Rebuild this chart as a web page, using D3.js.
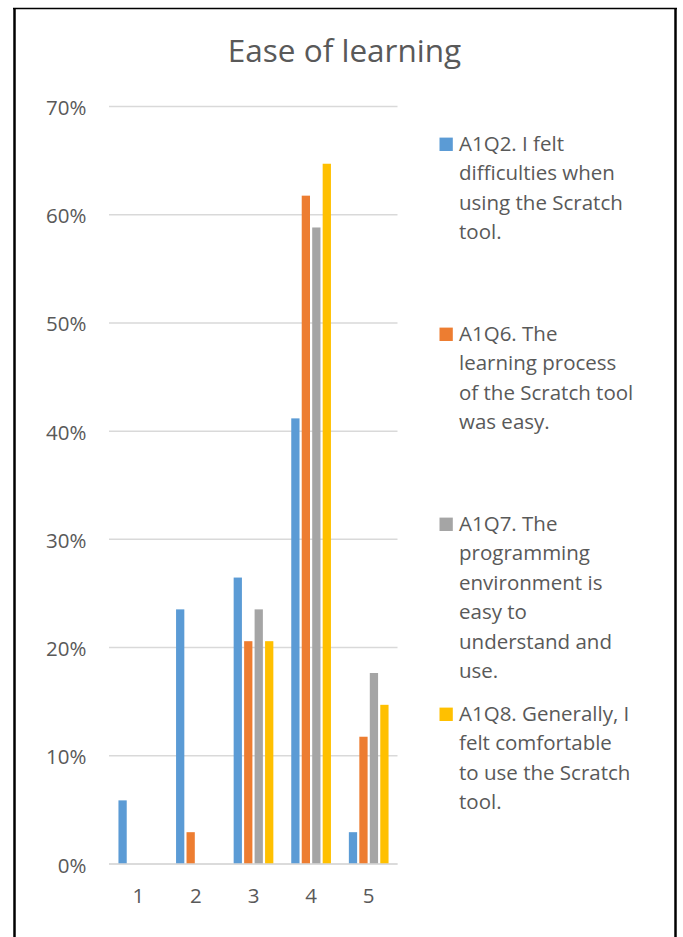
<!DOCTYPE html>
<html>
<head>
<meta charset="utf-8">
<script src="https://cdn.jsdelivr.net/npm/d3@7/dist/d3.min.js"></script>
<style>
  html, body { margin: 0; padding: 0; background: #fff; }
  svg { display: block; }
  text { font-family: "Open Sans", Lato, sans-serif; fill: #595959; }
</style>
</head>
<body>
<svg id="chart" width="683" height="937"></svg>
<script>
// Survey answers on a 1–5 scale, share of respondents per answer
const categories = ["1", "2", "3", "4", "5"];
const seriesKeys = ["A1Q2", "A1Q6", "A1Q7", "A1Q8"];
const valuesQ2 = [0.0588, 0.2353, 0.2647, 0.4118, 0.0294];
const valuesQ6 = [0.0, 0.0294, 0.2059, 0.6176, 0.1176];
const valuesQ7 = [0.0, 0.0, 0.2353, 0.5882, 0.1765];
const valuesQ8 = [0.0, 0.0, 0.2059, 0.6471, 0.1471];
const seriesValues = [valuesQ2, valuesQ6, valuesQ7, valuesQ8];
const seriesColors = ["#5B9BD5", "#ED7D31", "#A5A5A5", "#FFC000"];
const legendLines = [
  ["A1Q2. I felt", "difficulties when", "using the Scratch", "tool."],
  ["A1Q6. The", "learning process", "of the Scratch tool", "was easy."],
  ["A1Q7. The", "programming", "environment is", "easy to", "understand and", "use."],
  ["A1Q8. Generally, I", "felt comfortable", "to use the Scratch", "tool."]
];
const yTicks = [0, 0.1, 0.2, 0.3, 0.4, 0.5, 0.6, 0.7];
const titleText = "Ease of learning";

const fontFamily = "'Open Sans', Lato, sans-serif";
const labelSize = 20.5;
const svg = d3.select("#chart");

// Outer frame
const frame = svg.append("g").attr("stroke", "#000").attr("fill", "none");
frame.append("line").attr("x1", 13).attr("x2", 677).attr("y1", 8.5).attr("y2", 8.5).attr("stroke-width", 1.5);
frame.append("line").attr("x1", 14.5).attr("x2", 14.5).attr("y1", 8).attr("y2", 937).attr("stroke-width", 2.5);
frame.append("line").attr("x1", 675.5).attr("x2", 675.5).attr("y1", 8).attr("y2", 937).attr("stroke-width", 2.5);

// Scales
const x = d3.scaleBand().domain(categories).range([109.5, 397.5]).padding(0);
const xInner = d3.scaleBand().domain(seriesKeys).range([0, x.bandwidth()])
  .paddingInner(0).paddingOuter(0.75);
const y = d3.scaleLinear().domain([0, 0.7]).range([864, 106.5]);

// Title
svg.append("text")
  .attr("x", 344.5).attr("y", 62)
  .attr("text-anchor", "middle")
  .attr("font-size", 31.5)
  .text(titleText);

// Horizontal gridlines
svg.append("g").selectAll("line")
  .data(yTicks)
  .join("line")
  .attr("x1", 109).attr("x2", 397.5)
  .attr("y1", d => y(d)).attr("y2", d => y(d))
  .attr("stroke", "#D9D9D9")
  .attr("stroke-width", 1.5);

// Y axis labels
const yAxis = d3.axisLeft(y).tickValues(yTicks).tickFormat(d3.format(".0%")).tickSize(0).tickPadding(0);
const yg = svg.append("g").attr("transform", "translate(86.5,0)").call(yAxis);
yg.select(".domain").remove();
yg.selectAll("text")
  .attr("font-size", labelSize)
  .attr("font-family", fontFamily)
  .attr("fill", "#595959")
  .attr("dy", null)
  .attr("dominant-baseline", "central");

// Bars
const data = [];
categories.forEach((c, ci) => {
  seriesKeys.forEach((k, si) => {
    data.push({ cat: c, key: k, value: seriesValues[si][ci], color: seriesColors[si] });
  });
});
svg.append("g").selectAll("rect")
  .data(data.filter(d => d.value > 0))
  .join("rect")
  .attr("x", d => x(d.cat) + xInner(d.key) + 1.1)
  .attr("width", xInner.bandwidth() - 2.2)
  .attr("y", d => y(d.value))
  .attr("height", d => y(0) - y(d.value))
  .attr("fill", d => d.color);

// Baseline over the bars
svg.append("line")
  .attr("x1", 109).attr("x2", 397.5)
  .attr("y1", y(0)).attr("y2", y(0))
  .attr("stroke", "#D9D9D9").attr("stroke-width", 1.5);

// X axis labels
const xAxis = d3.axisBottom(x).tickSize(0).tickPadding(0);
const xg = svg.append("g").attr("transform", "translate(0,902.5)").call(xAxis);
xg.select(".domain").remove();
xg.selectAll("text")
  .attr("font-size", labelSize)
  .attr("font-family", fontFamily)
  .attr("fill", "#595959")
  .attr("dy", null)
  .attr("y", 0);

// Legend
const legend = svg.append("g");
const item = legend.selectAll("g")
  .data(seriesKeys)
  .join("g")
  .attr("transform", (d, i) => `translate(0,${151 + i * 190})`);
item.append("rect")
  .attr("x", 439.5).attr("y", -13.4)
  .attr("width", 13.3).attr("height", 13.4)
  .attr("fill", (d, i) => seriesColors[i]);
item.append("text")
  .attr("font-size", labelSize)
  .selectAll("tspan")
  .data((d, i) => legendLines[i])
  .join("tspan")
  .attr("x", 459)
  .attr("y", (d, j) => j * 29.4)
  .text(d => d);
</script>
</body>
</html>
